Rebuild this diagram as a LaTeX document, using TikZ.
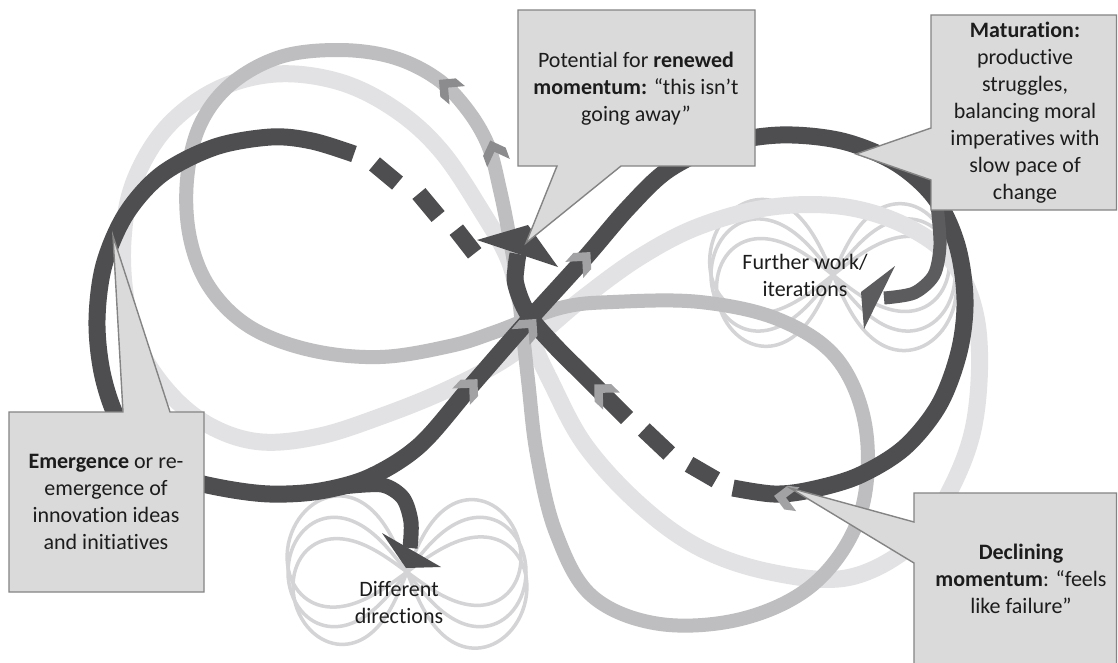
\documentclass[tikz,border=0pt]{standalone}
\usepackage{fontspec}
\setmainfont{Carlito}[Ligatures={NoCommon}]
\usetikzlibrary{calc}

\definecolor{ringdark}{RGB}{78,78,80}
\definecolor{ringstem}{RGB}{92,92,94}
\definecolor{ringmid}{RGB}{190,190,192}
\definecolor{ringlight}{RGB}{226,226,228}
\definecolor{loopthin}{RGB}{212,212,214}
\definecolor{chevlight}{RGB}{162,162,164}
\definecolor{chevmid}{RGB}{140,140,142}
\definecolor{calloutfill}{RGB}{218,218,218}
\definecolor{calloutedge}{RGB}{132,132,132}
\definecolor{inktext}{RGB}{28,28,28}

% a flower of rotated lemniscates: centre x, centre y, half width, rotation
\newcommand\lemniflower[4]{%
  \draw[thinloop, shift={(#1,#2)}, rotate=#4]
    plot[domain=0:360, samples=181, variable=\t]
      ({#3*cos(\t)/(1+sin(\t)^2)}, {1.3*#3*sin(\t)*cos(\t)/(1+sin(\t)^2)}) -- cycle;}

\begin{document}
\begin{tikzpicture}[x=1pt, y=-1pt,
  band/.style={line width=#1, line cap=butt, line join=round},
  darkband/.style={band=17, draw=ringdark},
  midband/.style={band=14, draw=ringmid},
  lightband/.style={band=17, draw=ringlight},
  thinloop/.style={draw=loopthin, line width=3.5},
  callout/.style={fill=calloutfill, draw=calloutedge, line width=1.4, line join=miter},
  lbl/.style={text=inktext, align=center, font=\fontsize{22}{27}\selectfont, inner sep=0pt},
  chev/.pic={\fill[pic actions] (8,0) -- (-4,-12) -- (-16,-12) -- (-4,0) -- (-16,12) -- (-4,12) -- cycle;},
]
\useasboundingbox (0,0) rectangle (1118,662);
\clip (0,0) rectangle (1118,662);
\fill[white] (0,0) rectangle (1118,662);

% thin iteration loops
\lemniflower{833}{275}{125}{-14}
\lemniflower{833}{275}{122}{0}
\lemniflower{833}{275}{118}{14}
\lemniflower{407}{572}{122}{-16}
\lemniflower{407}{572}{119}{0}
\lemniflower{407}{572}{116}{16}

% light figure eight
\draw[lightband] plot[smooth cycle, tension=0.6] coordinates {
  (520,300) (508,258) (484,215) (442,152) (396,110) (340,82) (276,74) (216,90)
  (166,128) (134,182) (123,240) (126,300) (141,352) (174,398) (214,428) (262,442)
  (320,436) (382,416) (442,392) (497,364) (540,334) (582,299) (640,257) (700,226)
  (772,207) (846,207) (910,228) (955,265) (978,330) (974,425) (945,500) (908,548)
  (846,578) (770,572) (700,548) (640,505) (585,445) (550,380) (532,340)};

% medium figure eight
\draw[midband] plot[smooth cycle, tension=0.6] coordinates {
  (518,290) (510,240) (500,190) (488,145) (466,108) (436,78) (392,57) (338,50)
  (280,57) (231,84) (200,125) (187,180) (190,238) (210,288) (250,327) (310,350)
  (380,357) (450,346) (495,332) (560,308) (613,302) (700,302) (780,320) (838,360)
  (866,430) (860,515) (816,582) (745,618) (660,624) (592,596) (556,533) (537,455)
  (528,380)};
\pic[fill=chevmid, rotate=140] at (445,85) {chev};
\pic[fill=chevmid, rotate=110] at (493,148) {chev};

% dark figure eight: solid run
\draw[darkband] plot[smooth, tension=0.55] coordinates {
  (354,154) (312,141) (271,137) (215,147) (162,174) (126,214) (104,265) (97,320)
  (102,372) (117,418) (143,455) (180,477) (222,488) (270,494) (320,491) (370,477)
  (420,445) (472,385) (527,322) (585,258) (628,208) (668,170) (720,145) (780,135)
  (842,141) (896,163) (935,198) (957,245) (965,300) (959,352) (939,405) (904,448)
  (858,476) (810,490) (774,494) (733,488)};
% broken stretches
\draw[darkband] (374.5,163.9) -- (397.5,183.1);
\draw[darkband] (418.9,193.5) -- (438.1,216.5);
\draw[darkband] (456.3,229.7) -- (474.7,253.3);
\draw[darkband] (643.8,429.5) -- (669.2,453.5);
\draw[darkband] (689.1,464.3) -- (715.9,479.8);
% return through the crossing, curling up
\draw[darkband] plot[smooth, tension=0.6] coordinates {
  (627,418) (590,381) (553,344) (528,314) (516,285) (516,268) (518,254)};
\fill[ringdark] (477,240) -- (528,225) -- (558,267) -- cycle;

% branch towards different directions
\draw[band=15, draw=ringdark] plot[smooth] coordinates {
  (342,487) (382,485) (403,498) (411,522) (410,548)};
\fill[ringdark] (382,533) -- (441,567) -- (406,568) -- cycle;

% branch towards further work
\draw[band=13, draw=ringstem] plot[smooth] coordinates {
  (937,205) (940,245) (934,275) (914,293) (884,298)};
\fill[ringstem] (895,266) -- (864,329) -- (861,292) -- cycle;

% direction marks on the dark ring
\pic[fill=chevlight, rotate=48] at (585,258) {chev};
\pic[fill=chevlight, rotate=49] at (531,325) {chev};
\pic[fill=chevlight, rotate=47] at (472,385) {chev};
\pic[fill=chevlight, rotate=136] at (600,390) {chev};
\pic[fill=chevlight, rotate=172] at (782,497) {chev};

% callouts
\draw[callout] (518,10) -- (755,10) -- (755,166) -- (621,166) -- (526,243)
  -- (557,166) -- (518,166) -- cycle;
\node[lbl] (renewed) at (636,89)
  {Potential for \textbf{renewed}\\\textbf{momentum:} “this isn’t\\going away”};

\draw[callout] (931,15) -- (1116.5,15) -- (1116.5,210) -- (931,210) -- (931,180)
  -- (856,154) -- (931,128) -- cycle;
\node[lbl] (maturation) at (1025,113)
  {\textbf{Maturation:}\\productive\\struggles,\\balancing moral\\imperatives with\\slow pace of\\change};

\draw[callout] (9,412) -- (123,412) -- (113,236) -- (170,412) -- (204,412)
  -- (204,592) -- (9,592) -- cycle;
\node[lbl] (emergence) at (106,502)
  {\textbf{Emergence} or re-\\emergence of\\innovation ideas\\and initiatives};

\draw[callout] (914,493) -- (1116.5,493) -- (1116.5,670) -- (914,670) -- (914,563)
  -- (790,488) -- (914,522) -- cycle;
\node[lbl] (declining) at (1021,579)
  {\textbf{Declining}\\\textbf{momentum}: “feels\\like failure”};

% free labels
\node[lbl] (further) at (805,275) {Further work/\\iterations};
\node[lbl] (different) at (399,602) {Different\\directions};
\end{tikzpicture}
\end{document}
